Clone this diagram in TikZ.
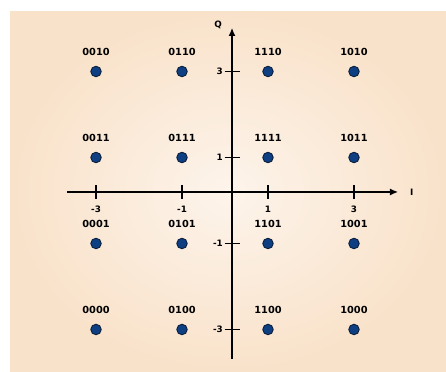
\documentclass[tikz,border=0pt]{standalone}
\usepackage{fontspec}
\setmainfont{DejaVu Sans}
\usetikzlibrary{arrows.meta,positioning}
\definecolor{peach}{HTML}{F9E2CA}
\definecolor{cream}{HTML}{FDF4EB}
\definecolor{dotblue}{HTML}{0E3F82}
\definecolor{dotrim}{HTML}{0B1E3C}
\tikzset{
  symbol/.style={circle,fill=dotblue,draw=dotrim,line width=0.9pt,minimum size=10.5pt,inner sep=0pt},
  bits/.style={font=\bfseries\fontsize{9.8}{11}\selectfont},
  ticklbl/.style={font=\bfseries\fontsize{8.8}{10}\selectfont,inner sep=1pt},
  axis/.style={line width=1.2pt,-{Latex[length=8pt,width=7pt]}},
  tickmark/.style={line width=1.2pt}
}

\begin{document}
\begin{tikzpicture}[x=43pt,y=43pt]
  % canvas and backdrop
  \useasboundingbox (-5.233,-3.988) rectangle (5.140,4.663);
  \shade[inner color=cream,outer color=peach] (-5.0,-3.988) rectangle (5.140,4.407);

  % axes
  \coordinate (Iw) at (-3.674,0.198);
  \coordinate (Ie) at (4.023,0.198);
  \coordinate (Qs) at (0.163,-3.686);
  \coordinate (Qn) at (0.163,4.012);
  \draw[axis] (Iw) -- (Ie);
  \draw[axis] (Qs) -- (Qn);
  \node[ticklbl,right=11pt of Ie] (Ilbl) {I};
  \node[ticklbl] (Qlbl) at (-0.163,4.08) {Q};

  % tick marks
  \foreach \v in {-3,-1,1,3}{
    \coordinate (ti\v) at (\v,0.198);
    \coordinate (tq\v) at (0.163,\v);
    \draw[tickmark] ([yshift=-7pt]ti\v) -- ([yshift=7pt]ti\v);
    \draw[tickmark] ([xshift=-7.5pt]tq\v) -- ([xshift=7.5pt]tq\v);
    \node[ticklbl] (li\v) at (\v,-0.198) {\v};
    \node[ticklbl,left=0.5pt of {[xshift=-7.5pt]tq\v}] (lq\v) {\v};
  }

  % constellation points
  \foreach \i/\a in {-3/00,-1/01,1/11,3/10}{
    \foreach \q/\b in {3/10,1/11,-1/01,-3/00}{
      \node[symbol] (s\a\b) at (\i,\q) {};
      \node[bits,above=7pt of s\a\b] (b\a\b) {\a\b};
    }
  }
\end{tikzpicture}
\end{document}
